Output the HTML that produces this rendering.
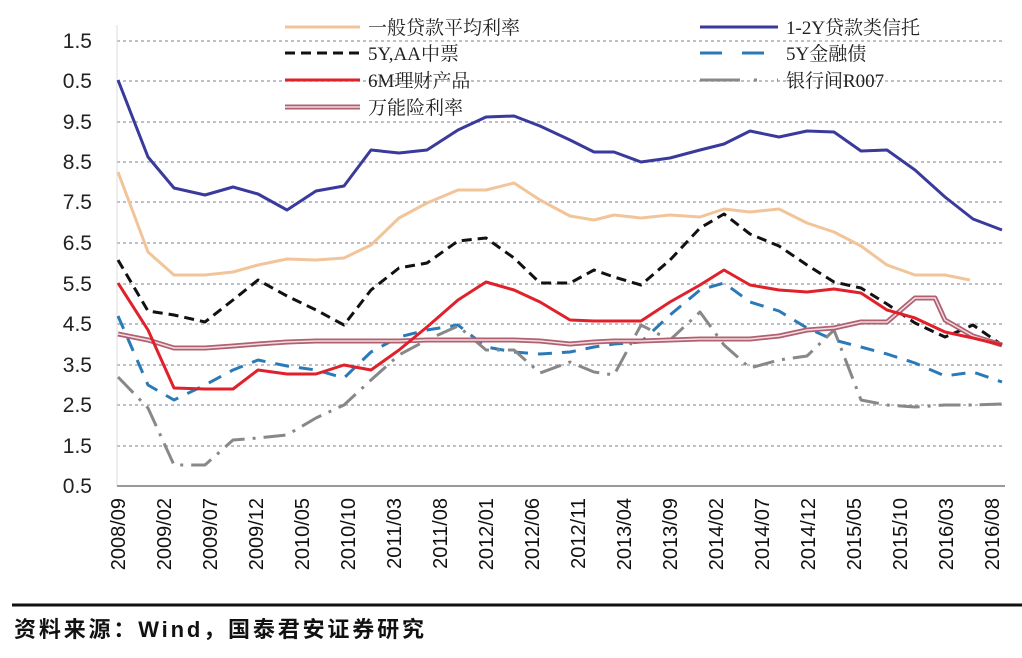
<!DOCTYPE html>
<html><head><meta charset="utf-8"><style>
body{margin:0;background:#fff;width:1022px;height:658px;overflow:hidden}
svg{display:block}
.yl{font-family:"Liberation Sans",sans-serif;font-size:21px;fill:#222}
.xl{font-family:"Liberation Sans",sans-serif;font-size:20px;fill:#111}
.lg{font-family:"Liberation Serif","Noto Serif CJK SC",serif;font-size:19px;fill:#222}
</style></head><body>
<svg width="1022" height="658" viewBox="0 0 1022 658">
<g stroke="#aab" stroke-width="1.5" stroke-dasharray="3,3">
<line x1="117" y1="41" x2="1005" y2="41"/><line x1="117" y1="81" x2="1005" y2="81"/>
<line x1="117" y1="122" x2="1005" y2="122"/><line x1="117" y1="162" x2="1005" y2="162"/>
<line x1="117" y1="202" x2="1005" y2="202"/><line x1="117" y1="243" x2="1005" y2="243"/>
<line x1="117" y1="284" x2="1005" y2="284"/><line x1="117" y1="324" x2="1005" y2="324"/>
<line x1="117" y1="365" x2="1005" y2="365"/><line x1="117" y1="405" x2="1005" y2="405"/>
<line x1="117" y1="446" x2="1005" y2="446"/>
</g>
<line x1="117" y1="25" x2="117" y2="486" stroke="#ddd" stroke-width="1"/>
<line x1="117" y1="486" x2="1005" y2="486" stroke="#999" stroke-width="2"/>
<g class="yl" text-anchor="end">
<text x="92" y="48">1.5</text><text x="92" y="88">0.5</text><text x="92" y="129">9.5</text>
<text x="92" y="169">8.5</text><text x="92" y="209">7.5</text><text x="92" y="250">6.5</text>
<text x="92" y="291">5.5</text><text x="92" y="331">4.5</text><text x="92" y="372">3.5</text>
<text x="92" y="412">2.5</text><text x="92" y="453">1.5</text><text x="92" y="493">0.5</text>
</g>
<g class="xl" text-anchor="end">
<text transform="translate(125,498) rotate(-90)">2008/09</text>
<text transform="translate(171,498) rotate(-90)">2009/02</text>
<text transform="translate(217,498) rotate(-90)">2009/07</text>
<text transform="translate(263,498) rotate(-90)">2009/12</text>
<text transform="translate(309,498) rotate(-90)">2010/05</text>
<text transform="translate(355,498) rotate(-90)">2010/10</text>
<text transform="translate(401,498) rotate(-90)">2011/03</text>
<text transform="translate(447,498) rotate(-90)">2011/08</text>
<text transform="translate(493,498) rotate(-90)">2012/01</text>
<text transform="translate(539,498) rotate(-90)">2012/06</text>
<text transform="translate(585,498) rotate(-90)">2012/11</text>
<text transform="translate(631,498) rotate(-90)">2013/04</text>
<text transform="translate(677,498) rotate(-90)">2013/09</text>
<text transform="translate(723,498) rotate(-90)">2014/02</text>
<text transform="translate(769,498) rotate(-90)">2014/07</text>
<text transform="translate(815,498) rotate(-90)">2014/12</text>
<text transform="translate(861,498) rotate(-90)">2015/05</text>
<text transform="translate(907,498) rotate(-90)">2015/10</text>
<text transform="translate(953,498) rotate(-90)">2016/03</text>
<text transform="translate(999,498) rotate(-90)">2016/08</text>
</g>
<g fill="none" stroke-linejoin="round">
<polyline stroke="#3a3a9c" stroke-width="3" points="118,80 148,157 174,188 205,195 233,187 258,194 287,210 316,191 344,186 371,150 399,153 427,150 458,130 486,117 514,116 540,126 570,140 594,152 614,152 641,162 670,158 700,150 724,144 750,131 779,137 807,131 834,132 861,151 887,150 915,170 945,197 973,219 1002,230"/>
<polyline stroke="#f2c49a" stroke-width="3" points="118,172 148,252 174,275 205,275 233,272 258,265 287,259 316,260 344,258 371,245 399,218 427,203 458,190 486,190 514,183 540,200 570,216 594,220 614,215 641,218 670,215 700,217 724,209 750,212 779,209 807,223 834,232 861,246 887,265 915,275 945,275 970,280"/>
<polyline stroke="#111" stroke-width="3" stroke-dasharray="10,6" points="118,260 148,311 174,315 205,322 233,300 258,280 287,296 316,310 344,325 371,290 399,268 427,263 458,241 486,238 514,258 540,283 570,283 594,270 614,277 641,285 670,260 700,228 724,214 750,234 779,246 807,265 834,282 861,288 887,304 915,323 945,337 973,325 1002,345"/>
<polyline stroke="#2a7ab8" stroke-width="3" stroke-dasharray="14,10" points="118,316 148,385 174,400 205,385 233,370 258,360 287,366 316,370 344,378 371,352 399,337 427,330 458,325 486,347 514,352 540,354 570,352 594,347 614,344 641,342 670,315 700,290 724,283 750,302 779,311 807,328 834,340 861,347 887,354 915,363 945,376 973,372 1002,382"/>
<polyline stroke="#888" stroke-width="3" stroke-dasharray="22,8,3,8" points="118,377 148,408 174,465 205,465 233,440 258,438 287,435 316,418 344,405 371,380 399,355 427,340 458,326 486,350 514,350 540,373 570,362 594,372 614,375 641,325 670,340 700,312 724,345 750,368 779,360 807,356 834,330 861,400 887,405 915,407 945,405 973,405 1002,404"/>
<polyline stroke="#b06070" stroke-width="5" points="118,334 148,340 174,348 205,348 233,346 258,344 287,342 316,341 344,341 371,341 399,341 427,340 458,340 486,340 514,340 540,341 570,344 594,342 614,341 641,341 670,340 700,339 724,339 750,339 779,336 807,330 834,328 861,322 887,322 915,298 935,298 945,320 973,336 1002,345"/>
<polyline stroke="#f4dde0" stroke-width="1.5" points="118,334 148,340 174,348 205,348 233,346 258,344 287,342 316,341 344,341 371,341 399,341 427,340 458,340 486,340 514,340 540,341 570,344 594,342 614,341 641,341 670,340 700,339 724,339 750,339 779,336 807,330 834,328 861,322 887,322 915,298 935,298 945,320 973,336 1002,345"/>
<polyline stroke="#e0202a" stroke-width="3" points="118,283 148,330 174,388 205,389 233,389 258,370 287,374 316,374 344,365 371,370 399,350 427,327 458,300 486,282 514,290 540,302 570,320 594,321 614,321 641,321 670,302 700,285 724,270 750,285 779,290 807,292 834,289 861,293 887,310 915,318 945,332 973,338 1002,345"/>
</g>
<g stroke-width="3">
<line x1="285" y1="27" x2="360" y2="27" stroke="#f2c49a"/>
<line x1="285" y1="53" x2="360" y2="53" stroke="#111" stroke-dasharray="10,6"/>
<line x1="285" y1="80" x2="360" y2="80" stroke="#e0202a"/>
<line x1="285" y1="107" x2="360" y2="107" stroke="#b06070" stroke-width="5"/>
<line x1="285" y1="107" x2="360" y2="107" stroke="#f4dde0" stroke-width="1.5"/>
<line x1="700" y1="27" x2="778" y2="27" stroke="#3a3a9c"/>
<line x1="700" y1="53" x2="778" y2="53" stroke="#2a7ab8" stroke-dasharray="22,20"/>
<line x1="700" y1="80" x2="778" y2="80" stroke="#888" stroke-dasharray="40,14,3,20"/>
</g>
<g class="lg">
<text x="368" y="34">一般贷款平均利率</text>
<text x="368" y="60">5Y,AA中票</text>
<text x="368" y="87">6M理财产品</text>
<text x="368" y="114">万能险利率</text>
<text x="786" y="34">1-2Y贷款类信托</text>
<text x="786" y="60">5Y金融债</text>
<text x="786" y="87">银行间R007</text>
</g>
<line x1="12" y1="605" x2="1022" y2="605" stroke="#111" stroke-width="3"/>
<text x="14" y="637" textLength="410" style="font-family:'Liberation Sans','Noto Sans CJK SC',sans-serif;font-size:22px;font-weight:bold;fill:#111">资料来源：Wind，国泰君安证券研究</text>
</svg>
</body></html>
